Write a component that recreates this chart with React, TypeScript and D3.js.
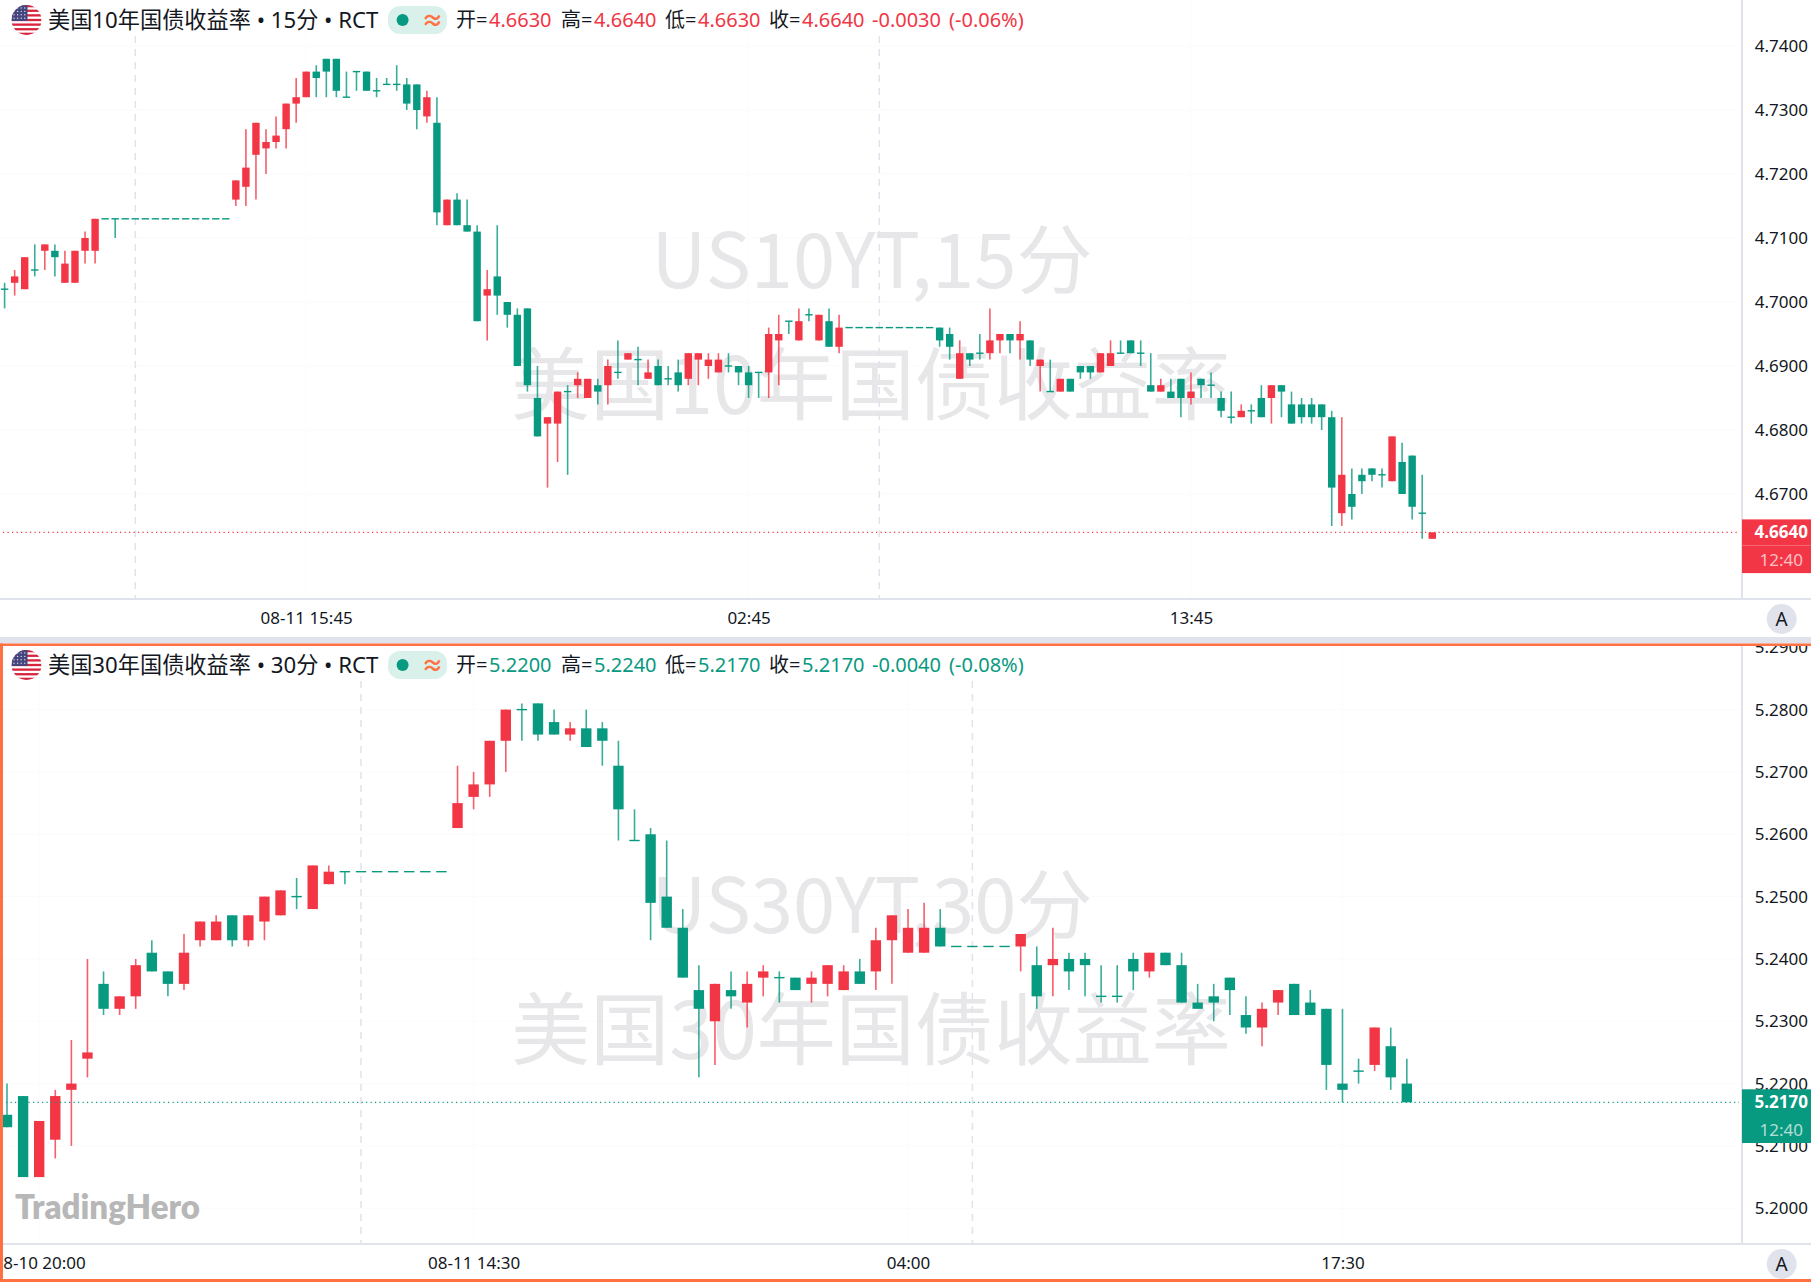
import React, { useEffect, useRef } from 'react';
import * as d3 from 'd3';

// rows are open, high, low, close
const us10yRows: number[][] = [
  [4.702, 4.703, 4.699, 4.702], [4.703, 4.705, 4.701, 4.704], [4.702, 4.707, 4.702, 4.707], [4.705, 4.709, 4.704, 4.705],
  [4.708, 4.709, 4.705, 4.709], [4.708, 4.709, 4.704, 4.707], [4.703, 4.708, 4.703, 4.706], [4.703, 4.708, 4.703, 4.708],
  [4.708, 4.711, 4.706, 4.710], [4.708, 4.713, 4.706, 4.713], [4.713, 4.713, 4.713, 4.713], [4.713, 4.713, 4.710, 4.713],
  [4.713, 4.713, 4.713, 4.713], [4.713, 4.713, 4.713, 4.713], [4.713, 4.713, 4.713, 4.713], [4.713, 4.713, 4.713, 4.713],
  [4.713, 4.713, 4.713, 4.713], [4.713, 4.713, 4.713, 4.713], [4.713, 4.713, 4.713, 4.713], [4.713, 4.713, 4.713, 4.713],
  [4.713, 4.713, 4.713, 4.713], [4.713, 4.713, 4.713, 4.713], [4.713, 4.713, 4.713, 4.713],
  [4.716, 4.719, 4.715, 4.719], [4.718, 4.727, 4.715, 4.721], [4.723, 4.728, 4.716, 4.728], [4.724, 4.727, 4.720, 4.725],
  [4.725, 4.729, 4.724, 4.726], [4.727, 4.731, 4.724, 4.731], [4.731, 4.735, 4.728, 4.732], [4.732, 4.736, 4.732, 4.736],
  [4.736, 4.737, 4.732, 4.735], [4.738, 4.738, 4.732, 4.736], [4.738, 4.738, 4.732, 4.733], [4.732, 4.736, 4.732, 4.732],
  [4.736, 4.736, 4.733, 4.736], [4.736, 4.736, 4.733, 4.733], [4.733, 4.735, 4.732, 4.733], [4.734, 4.735, 4.734, 4.734],
  [4.734, 4.737, 4.733, 4.734], [4.734, 4.735, 4.730, 4.731], [4.734, 4.734, 4.727, 4.730], [4.729, 4.733, 4.728, 4.732],
  [4.728, 4.732, 4.712, 4.714], [4.712, 4.716, 4.712, 4.716], [4.716, 4.717, 4.712, 4.712], [4.712, 4.716, 4.711, 4.711],
  [4.711, 4.712, 4.697, 4.697], [4.701, 4.705, 4.694, 4.702], [4.704, 4.712, 4.698, 4.701], [4.700, 4.700, 4.696, 4.698],
  [4.698, 4.699, 4.690, 4.690], [4.699, 4.699, 4.686, 4.687], [4.685, 4.690, 4.679, 4.679], [4.681, 4.682, 4.671, 4.682],
  [4.681, 4.686, 4.675, 4.686], [4.686, 4.687, 4.673, 4.686], [4.687, 4.689, 4.685, 4.688], [4.685, 4.688, 4.685, 4.688],
  [4.687, 4.688, 4.684, 4.686], [4.687, 4.691, 4.684, 4.690], [4.689, 4.694, 4.688, 4.689], [4.691, 4.692, 4.691, 4.692],
  [4.691, 4.693, 4.687, 4.691], [4.688, 4.691, 4.688, 4.689], [4.690, 4.691, 4.687, 4.687], [4.688, 4.690, 4.687, 4.688],
  [4.689, 4.691, 4.686, 4.687], [4.688, 4.692, 4.687, 4.692], [4.691, 4.692, 4.687, 4.692], [4.690, 4.692, 4.688, 4.691],
  [4.689, 4.692, 4.689, 4.691], [4.690, 4.692, 4.689, 4.690], [4.690, 4.690, 4.687, 4.689], [4.689, 4.690, 4.685, 4.687],
  [4.689, 4.689, 4.685, 4.689], [4.689, 4.696, 4.685, 4.695], [4.694, 4.698, 4.687, 4.695], [4.697, 4.697, 4.695, 4.697],
  [4.694, 4.699, 4.694, 4.697], [4.698, 4.699, 4.697, 4.698], [4.694, 4.698, 4.694, 4.698], [4.697, 4.699, 4.693, 4.693],
  [4.693, 4.698, 4.692, 4.696], [4.696, 4.696, 4.696, 4.696], [4.696, 4.696, 4.696, 4.696], [4.696, 4.696, 4.696, 4.696],
  [4.696, 4.696, 4.696, 4.696], [4.696, 4.696, 4.696, 4.696], [4.696, 4.696, 4.696, 4.696], [4.696, 4.696, 4.696, 4.696],
  [4.696, 4.696, 4.696, 4.696], [4.696, 4.696, 4.696, 4.696], [4.696, 4.696, 4.693, 4.694], [4.695, 4.696, 4.691, 4.693],
  [4.688, 4.694, 4.688, 4.692], [4.692, 4.692, 4.690, 4.691], [4.692, 4.695, 4.691, 4.692], [4.692, 4.699, 4.691, 4.694],
  [4.694, 4.695, 4.692, 4.695], [4.695, 4.695, 4.692, 4.694], [4.694, 4.697, 4.691, 4.695], [4.694, 4.694, 4.690, 4.691],
  [4.690, 4.691, 4.686, 4.691], [4.686, 4.691, 4.686, 4.686], [4.686, 4.688, 4.686, 4.688], [4.688, 4.688, 4.686, 4.686],
  [4.690, 4.690, 4.688, 4.689], [4.690, 4.690, 4.688, 4.689], [4.689, 4.692, 4.689, 4.692], [4.690, 4.694, 4.690, 4.692],
  [4.692, 4.694, 4.692, 4.692], [4.694, 4.694, 4.692, 4.692], [4.692, 4.694, 4.690, 4.692], [4.687, 4.692, 4.686, 4.686],
  [4.686, 4.688, 4.686, 4.687], [4.686, 4.688, 4.685, 4.685], [4.688, 4.688, 4.682, 4.685], [4.685, 4.689, 4.684, 4.686],
  [4.688, 4.688, 4.685, 4.687], [4.687, 4.689, 4.685, 4.687], [4.685, 4.686, 4.682, 4.683], [4.682, 4.686, 4.681, 4.682],
  [4.682, 4.684, 4.682, 4.683], [4.683, 4.684, 4.681, 4.683], [4.685, 4.687, 4.682, 4.682], [4.685, 4.687, 4.681, 4.687],
  [4.687, 4.687, 4.682, 4.686], [4.684, 4.686, 4.681, 4.681], [4.684, 4.685, 4.681, 4.682], [4.684, 4.685, 4.681, 4.682],
  [4.684, 4.684, 4.680, 4.682], [4.682, 4.683, 4.665, 4.671], [4.667, 4.682, 4.665, 4.673], [4.670, 4.674, 4.666, 4.668],
  [4.673, 4.674, 4.670, 4.672], [4.674, 4.674, 4.672, 4.673], [4.673, 4.674, 4.671, 4.673], [4.672, 4.679, 4.672, 4.679],
  [4.675, 4.678, 4.670, 4.670], [4.676, 4.676, 4.666, 4.668], [4.667, 4.673, 4.663, 4.667], [4.663, 4.664, 4.663, 4.664],
];

const us30yRows: number[][] = [
  [5.215, 5.220, 5.213, 5.213], [5.218, 5.218, 5.205, 5.205], [5.205, 5.214, 5.205, 5.214], [5.211, 5.219, 5.208, 5.218],
  [5.219, 5.227, 5.210, 5.220], [5.224, 5.240, 5.221, 5.225], [5.236, 5.238, 5.231, 5.232], [5.232, 5.234, 5.231, 5.234],
  [5.234, 5.240, 5.232, 5.239], [5.241, 5.243, 5.238, 5.238], [5.238, 5.238, 5.234, 5.236], [5.236, 5.244, 5.235, 5.241],
  [5.243, 5.246, 5.242, 5.246], [5.243, 5.247, 5.243, 5.246], [5.247, 5.247, 5.242, 5.243], [5.243, 5.247, 5.242, 5.247],
  [5.246, 5.250, 5.243, 5.250], [5.247, 5.251, 5.247, 5.251], [5.250, 5.253, 5.248, 5.250], [5.248, 5.255, 5.248, 5.255],
  [5.252, 5.255, 5.252, 5.254], [5.254, 5.254, 5.252, 5.254], [5.254, 5.254, 5.254, 5.254], [5.254, 5.254, 5.254, 5.254],
  [5.254, 5.254, 5.254, 5.254], [5.254, 5.254, 5.254, 5.254], [5.254, 5.254, 5.254, 5.254], [5.254, 5.254, 5.254, 5.254],
  [5.261, 5.271, 5.261, 5.265], [5.266, 5.270, 5.264, 5.268], [5.268, 5.275, 5.266, 5.275], [5.275, 5.280, 5.270, 5.280],
  [5.280, 5.281, 5.275, 5.280], [5.281, 5.281, 5.275, 5.276], [5.278, 5.280, 5.276, 5.276], [5.276, 5.278, 5.275, 5.277],
  [5.277, 5.280, 5.274, 5.274], [5.277, 5.278, 5.271, 5.275], [5.271, 5.275, 5.259, 5.264], [5.259, 5.264, 5.259, 5.259],
  [5.260, 5.261, 5.243, 5.249], [5.250, 5.259, 5.245, 5.245], [5.245, 5.248, 5.237, 5.237], [5.235, 5.239, 5.221, 5.232],
  [5.230, 5.236, 5.223, 5.236], [5.235, 5.238, 5.232, 5.234], [5.233, 5.238, 5.229, 5.236], [5.237, 5.239, 5.234, 5.238],
  [5.237, 5.238, 5.233, 5.237], [5.237, 5.237, 5.235, 5.235], [5.236, 5.238, 5.233, 5.237], [5.236, 5.239, 5.234, 5.239],
  [5.235, 5.239, 5.235, 5.238], [5.238, 5.240, 5.236, 5.236], [5.238, 5.245, 5.235, 5.243], [5.243, 5.247, 5.236, 5.247],
  [5.241, 5.248, 5.241, 5.245], [5.241, 5.249, 5.241, 5.245], [5.245, 5.248, 5.242, 5.242], [5.242, 5.242, 5.242, 5.242],
  [5.242, 5.242, 5.242, 5.242], [5.242, 5.242, 5.242, 5.242], [5.242, 5.242, 5.242, 5.242], [5.242, 5.244, 5.238, 5.244],
  [5.239, 5.242, 5.232, 5.234], [5.239, 5.245, 5.234, 5.240], [5.240, 5.241, 5.235, 5.238], [5.240, 5.241, 5.234, 5.239],
  [5.234, 5.239, 5.233, 5.234], [5.234, 5.239, 5.233, 5.234], [5.240, 5.241, 5.235, 5.238], [5.238, 5.241, 5.237, 5.241],
  [5.241, 5.241, 5.239, 5.239], [5.239, 5.241, 5.233, 5.233], [5.233, 5.236, 5.232, 5.232], [5.234, 5.236, 5.230, 5.233],
  [5.237, 5.237, 5.231, 5.235], [5.231, 5.234, 5.228, 5.229], [5.229, 5.233, 5.226, 5.232], [5.233, 5.235, 5.231, 5.235],
  [5.236, 5.236, 5.231, 5.231], [5.233, 5.235, 5.231, 5.231], [5.232, 5.232, 5.219, 5.223], [5.220, 5.232, 5.217, 5.219],
  [5.222, 5.224, 5.220, 5.222], [5.223, 5.229, 5.222, 5.229], [5.226, 5.229, 5.219, 5.221], [5.220, 5.224, 5.217, 5.217],
];

const us10yTicks = [4.67, 4.68, 4.69, 4.7, 4.71, 4.72, 4.73, 4.74];
const us30yTicks = [5.2, 5.21, 5.22, 5.23, 5.24, 5.25, 5.26, 5.27, 5.28, 5.29];
const us10yTimeTicks = [30, 74, 118];
const us10yTimeLabels = ['08-11 15:45', '02:45', '13:45'];
const us30yTimeTicks = [2, 29, 56, 83];
const us30yTimeLabels = ['08-10 20:00', '08-11 14:30', '04:00', '17:30'];
const us10ySessions = [13, 87];
const us30ySessions = [22, 60];
const legendLabels = ['开=', '高=', '低=', '收='];
const us10yLegend = ['4.6630', '4.6640', '4.6630', '4.6640', '-0.0030', '(-0.06%)'];
const us30yLegend = ['5.2200', '5.2240', '5.2170', '5.2170', '-0.0040', '(-0.08%)'];

const RED = '#f23645';
const GREEN = '#089981';
const LINE = '#e0e3eb';
const ORANGE = '#ff7043';
const LATIN = "'Noto Sans', 'Noto Sans CJK SC', sans-serif";
const CJK = "'Noto Sans CJK SC', 'Noto Sans', sans-serif";

interface PaneConfig {
  id: string,
  rows: number[][],
  priceTicks: number[],
  timeTicks: number[],
  timeLabels: string[],
  sessions: number[],
  legend: string[],
  title: string,
  mark1: string,
  mark2: string,
  top: number,
  axisY: number,
  dashTop: number,
  x0: number,
  step: number,
  bodyWidth: number,
  priceRef: number,
  yRef: number,
  perUnit: number,
  last: number,
  upColor: string,
  clipLeft: number,
}

const panes: PaneConfig[] = [
  {
    id: 'top', rows: us10yRows, priceTicks: us10yTicks, timeTicks: us10yTimeTicks, timeLabels: us10yTimeLabels,
    sessions: us10ySessions, legend: us10yLegend, title: '美国10年国债收益率 • 15分 • RCT',
    mark1: 'US10YT,15分', mark2: '美国10年国债收益率',
    top: 0, axisY: 599, dashTop: 36, x0: 4.6, step: 10.054, bodyWidth: 7.4,
    priceRef: 4.67, yRef: 494, perUnit: 6400, last: 4.664, upColor: RED, clipLeft: 0,
  },
  {
    id: 'bottom', rows: us30yRows, priceTicks: us30yTicks, timeTicks: us30yTimeTicks, timeLabels: us30yTimeLabels,
    sessions: us30ySessions, legend: us30yLegend, title: '美国30年国债收益率 • 30分 • RCT',
    mark1: 'US30YT,30分', mark2: '美国30年国债收益率',
    top: 645, axisY: 1244, dashTop: 681, x0: 7, step: 16.09, bodyWidth: 10.4,
    priceRef: 5.217, yRef: 1102.3, perUnit: 6233, last: 5.217, upColor: GREEN, clipLeft: 3,
  },
];

function drawFlag(g: any, cx: number, cy: number, id: string) {
  const r = 15;
  g.append('clipPath').attr('id', `flag-${id}`).append('circle').attr('cx', cx).attr('cy', cy).attr('r', r);
  const flag = g.append('g').attr('clip-path', `url(#flag-${id})`);
  flag.append('rect').attr('x', cx - r).attr('y', cy - r).attr('width', 2 * r).attr('height', 2 * r).attr('fill', '#fff');
  d3.range(7).forEach((k) => {
    flag.append('rect').attr('x', cx - r).attr('y', cy - r + k * (30 / 6.5)).attr('width', 2 * r).attr('height', 30 / 13)
      .attr('fill', '#d8243c');
  });
  flag.append('rect').attr('x', cx - r).attr('y', cy - r).attr('width', r + 1).attr('height', r + 1).attr('fill', '#46467f');
  d3.range(4).forEach((a) => d3.range(4).forEach((b) => {
    flag.append('circle').attr('cx', cx - r + 2.5 + a * 3.6).attr('cy', cy - r + 3 + b * 3.4).attr('r', 0.7)
      .attr('fill', '#d6d6e8');
  }));
}

function drawPane(svg: any, p: PaneConfig) {
  const w = 1742;
  const x = d3.scaleLinear().domain([0, 1]).range([p.x0, p.x0 + p.step]);
  const y = d3.scaleLinear().domain([p.priceRef, p.priceRef + 1]).range([p.yRef, p.yRef - p.perUnit]);

  const clipId = `plot-${p.id}`;
  svg.append('clipPath').attr('id', clipId).append('rect')
    .attr('x', p.clipLeft).attr('y', p.top).attr('width', w - p.clipLeft).attr('height', p.axisY - p.top);
  const plot = svg.append('g').attr('clip-path', `url(#${clipId})`);

  // faint grid
  plot.selectAll('.grid').data(p.priceTicks).enter().append('line')
    .attr('x1', 0).attr('x2', w).attr('y1', (d: number) => y(d)).attr('y2', (d: number) => y(d))
    .attr('stroke', '#fbfbfc');
  plot.selectAll('.vgrid').data(p.timeTicks).enter().append('line')
    .attr('x1', (d: number) => x(d)).attr('x2', (d: number) => x(d)).attr('y1', p.top).attr('y2', p.axisY)
    .attr('stroke', '#fcfcfd');

  // watermark
  const markY1 = p.top + 261;
  plot.append('text').attr('x', 872).attr('y', markY1).attr('dy', '0.35em').attr('text-anchor', 'middle')
    .attr('font-family', CJK).attr('font-size', 76).attr('fill', '#e7e7e9').text(p.mark1);
  plot.append('text').attr('x', 871).attr('y', markY1 + 125).attr('dy', '0.35em').attr('text-anchor', 'middle')
    .attr('font-family', CJK).attr('font-size', 79).attr('fill', '#e7e7e9').text(p.mark2);

  // session breaks
  plot.selectAll('.session').data(p.sessions).enter().append('line')
    .attr('x1', (d: number) => x(d)).attr('x2', (d: number) => x(d)).attr('y1', p.dashTop).attr('y2', p.axisY)
    .attr('stroke', LINE).attr('stroke-width', 1.5).attr('stroke-dasharray', '7 6');

  // candles
  const colorOf = (d: number[]) => (d[3] > d[0] ? RED : GREEN);
  const candles = plot.selectAll('.candle').data(p.rows).enter().append('g');
  candles.append('line')
    .attr('x1', (d: number[], i: number) => x(i)).attr('x2', (d: number[], i: number) => x(i))
    .attr('y1', (d: number[]) => y(d[1])).attr('y2', (d: number[]) => y(d[2]))
    .attr('stroke', colorOf).attr('stroke-opacity', 0.8).attr('stroke-width', 1.6);
  candles.append('rect')
    .attr('x', (d: number[], i: number) => x(i) - p.bodyWidth / 2)
    .attr('width', p.bodyWidth)
    .attr('y', (d: number[]) => (d[0] === d[3] ? y(d[0]) - 0.7 : y(Math.max(d[0], d[3]))))
    .attr('height', (d: number[]) => (d[0] === d[3] ? 1.4 : y(Math.min(d[0], d[3])) - y(Math.max(d[0], d[3]))))
    .attr('fill', colorOf);

  // last price line
  plot.append('line').attr('x1', p.clipLeft + 3).attr('x2', w - 3).attr('y1', y(p.last)).attr('y2', y(p.last))
    .attr('stroke', p.upColor).attr('stroke-width', 1.2).attr('stroke-dasharray', '1.2 3.3');

  // price axis
  const axisClip = `axis-${p.id}`;
  svg.append('clipPath').attr('id', axisClip).append('rect')
    .attr('x', w).attr('y', p.top).attr('width', 69).attr('height', p.axisY - p.top);
  const yAxis = svg.append('g').attr('clip-path', `url(#${axisClip})`)
    .append('g').attr('transform', 'translate(1808,0)')
    .call(d3.axisLeft(y).tickValues(p.priceTicks).tickSize(0).tickPadding(0).tickFormat(d3.format('.4f') as any));
  yAxis.select('.domain').remove();
  yAxis.attr('font-family', LATIN).attr('font-size', 17).selectAll('text').attr('fill', '#131722');

  // time axis
  const xAxis = svg.append('g').attr('transform', `translate(0,${p.axisY})`)
    .call(d3.axisBottom(x).tickValues(p.timeTicks).tickSize(0).tickPadding(13)
      .tickFormat(((d: number) => p.timeLabels[p.timeTicks.indexOf(d)]) as any));
  xAxis.select('.domain').remove();
  xAxis.attr('font-family', LATIN).attr('font-size', 17).selectAll('text').attr('fill', '#131722');

  svg.append('line').attr('x1', 0).attr('x2', 1811).attr('y1', p.axisY).attr('y2', p.axisY)
    .attr('stroke', LINE).attr('stroke-width', 2);
  svg.append('line').attr('x1', w).attr('x2', w).attr('y1', p.top).attr('y2', p.axisY)
    .attr('stroke', LINE).attr('stroke-width', 2);

  // last price tag
  const tagY = y(p.last);
  const tag = svg.append('g');
  tag.append('rect').attr('x', w).attr('y', tagY - 13).attr('width', 69).attr('height', 53.7).attr('fill', p.upColor);
  tag.append('line').attr('x1', w).attr('x2', 1811).attr('y1', tagY + 13).attr('y2', tagY + 13)
    .attr('stroke', '#fff').attr('stroke-opacity', p.upColor === RED ? 0.25 : 0);
  tag.append('text').attr('x', 1808).attr('y', tagY).attr('dy', '0.35em').attr('text-anchor', 'end')
    .attr('font-family', LATIN).attr('font-size', 17).attr('font-weight', 700).attr('fill', '#fff').text(p.last.toFixed(4));
  tag.append('text').attr('x', 1803).attr('y', tagY + 27.5).attr('dy', '0.35em').attr('text-anchor', 'end')
    .attr('font-family', LATIN).attr('font-size', 17).attr('fill', '#fff').attr('fill-opacity', 0.7).text('12:40');

  // auto scale button
  svg.append('circle').attr('cx', 1781.7).attr('cy', p.axisY + 20).attr('r', 15).attr('fill', LINE);
  svg.append('text').attr('x', 1781.7).attr('y', p.axisY + 20).attr('dy', '0.36em').attr('text-anchor', 'middle')
    .attr('font-family', LATIN).attr('font-size', 19).attr('fill', '#131722').text('A');

  // legend
  const legendY = p.top + 20;
  drawFlag(svg, 26.5, legendY, p.id);
  svg.append('text').attr('x', 48).attr('y', legendY).attr('dy', '0.36em')
    .attr('font-family', LATIN).attr('font-size', 22.2).attr('fill', '#131722').text(p.title);
  svg.append('rect').attr('x', 388).attr('y', legendY - 14).attr('width', 59).attr('height', 28).attr('rx', 12)
    .attr('fill', '#daf0eb');
  svg.append('circle').attr('cx', 402.6).attr('cy', legendY).attr('r', 6).attr('fill', GREEN);
  svg.append('text').attr('x', 432.5).attr('y', legendY).attr('dy', '0.36em').attr('text-anchor', 'middle')
    .attr('font-family', LATIN).attr('font-size', 22).attr('font-weight', 700).attr('fill', ORANGE).text('≈');
  const labelX = [456, 561, 665, 769];
  legendLabels.forEach((label, i) => {
    svg.append('text').attr('x', labelX[i]).attr('y', legendY).attr('dy', '0.36em')
      .attr('font-family', LATIN).attr('font-size', 20).attr('fill', '#131722').text(label);
    svg.append('text').attr('x', labelX[i] + 33).attr('y', legendY).attr('dy', '0.36em')
      .attr('font-family', LATIN).attr('font-size', 20).attr('fill', p.upColor).text(p.legend[i]);
  });
  svg.append('text').attr('x', 872).attr('y', legendY).attr('dy', '0.36em')
    .attr('font-family', LATIN).attr('font-size', 20).attr('fill', p.upColor).text(p.legend[4]);
  svg.append('text').attr('x', 949).attr('y', legendY).attr('dy', '0.36em')
    .attr('font-family', LATIN).attr('font-size', 20).attr('fill', p.upColor).text(p.legend[5]);
}

export default function App() {
  const ref = useRef<SVGSVGElement>(null);

  useEffect(() => {
    const svg = d3.select(ref.current);
    svg.selectAll('*').remove();

    panes.forEach((p) => drawPane(svg, p));

    // logo
    svg.append('text').attr('x', 15).attr('y', 1219)
      .attr('font-family', "Lato, 'Noto Sans', sans-serif").attr('font-size', 33).attr('font-weight', 800)
      .attr('fill', '#b7b7b7').text('TradingHero');

    // pane divider and active pane frame
    svg.append('rect').attr('x', 0).attr('y', 637).attr('width', 1811).attr('height', 6.5).attr('fill', LINE);
    svg.append('rect').attr('x', 0).attr('y', 643.5).attr('width', 1811).attr('height', 2.5).attr('fill', ORANGE);
    svg.append('rect').attr('x', 0).attr('y', 643.5).attr('width', 3).attr('height', 638.5).attr('fill', ORANGE);
    svg.append('rect').attr('x', 0).attr('y', 1279).attr('width', 1811).attr('height', 3).attr('fill', ORANGE);
  }, []);

  return (
    <svg
      ref={ref}
      width={1811}
      height={1282}
      viewBox="0 0 1811 1282"
      style={{ position: 'absolute', left: 0, top: 0, background: '#fff' }}
    />
  );
}
